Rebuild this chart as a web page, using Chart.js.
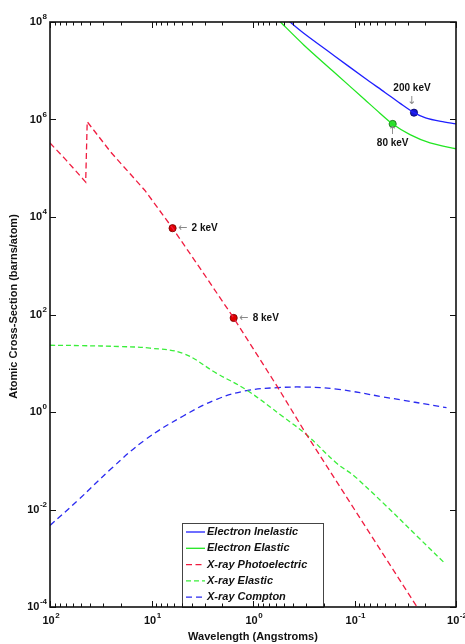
<!DOCTYPE html>
<html>
<head>
<meta charset="utf-8">
<script src="https://cdn.jsdelivr.net/npm/chart.js@4.4.1/dist/chart.umd.min.js"></script>
<style>
  html, body { margin: 0; padding: 0; background: #fff; }
</style>
</head>
<body>
<canvas id="chart" width="465" height="644"></canvas>
<script>
// wavelength in angstroms, cross-section in barns/atom
const photoLambda = [100, 70, 44.5, 43, 25, 11.6, 6.2, 3, 1.55, 0.57, 0.296, 0.1, 0.0242];
const photoValue = [3.3e5, 1.5e5, 5.2e4, 9.0e5, 2.1e5, 3.5e4, 5.9e3, 650, 85, 3.2, 0.34, 0.01, 1e-4];

const xElasticLambda = [100, 50, 20, 10.35, 4.86, 2.28, 1.15, 0.502, 0.296, 0.15, 0.095, 0.0129];
const xElasticValue = [23.4, 23, 22, 20.4, 15.8, 6.2, 2.8, 0.79, 0.34, 0.089, 0.044, 7.9e-4];

const comptonLambda = [100, 52.6, 24.7, 11.6, 4.86, 2.28, 1.15, 0.571, 0.296, 0.15, 0.052, 0.0124];
const comptonValue = [4.7e-3, 0.0157, 0.07, 0.267, 0.83, 1.82, 2.75, 3.16, 3.24, 2.95, 2.04, 1.23];

const eInelLambda = [0.6, 0.4315, 0.3162, 0.1585, 0.0794, 0.0501, 0.03548, 0.02594, 0.01995, 0.01413, 0.01];
const eInelValue = [1.78e8, 1.0e8, 5.89e7, 2.04e7, 7.08e6, 3.59e6, 2.14e6, 1.38e6, 1.08e6, 9.12e5, 8.13e5];

const eElasticLambda = [0.708, 0.537, 0.3162, 0.1585, 0.0794, 0.0562, 0.04207, 0.02838, 0.01803, 0.01];
const eElasticValue = [1.76e8, 1.0e8, 3.39e7, 9.33e6, 2.57e6, 1.35e6, 8.1e5, 4.88e5, 3.3e5, 2.51e5];

// marked energies
const redMarkLambda = [6.2, 1.55];
const redMarkValue = [5.9e3, 85];
const redMarkText = ['2 keV', '8 keV'];
const blueMarkLambda = [0.02594];
const blueMarkValue = [1.38e6];
const blueMarkText = ['200 keV'];
const greenMarkLambda = [0.04207];
const greenMarkValue = [8.1e5];
const greenMarkText = ['80 keV'];

const xTickValues = [100, 10, 1, 0.1, 0.01];
const xTickExp = [2, 1, 0, -1, -2];
const yTickValues = [1e8, 1e6, 1e4, 1e2, 1, 1e-2, 1e-4];
const yTickExp = [8, 6, 4, 2, 0, -2, -4];

const legendLabels = ['Electron Inelastic', 'Electron Elastic', 'X-ray Photoelectric', 'X-ray Elastic', 'X-ray Compton'];

const FONT = '"Liberation Sans", Arial, Helvetica, sans-serif';

const pts = (xs, ys) => xs.map((x, i) => ({ x, y: ys[i] }));

const lineSet = (label, xs, ys, color, dash, tension) => ({
    label,
    data: pts(xs, ys),
    showLine: true,
    borderColor: color,
    backgroundColor: color,
    borderWidth: 1.3,
    borderDash: dash,
    pointRadius: 0,
    tension,
    isLegend: true,
});

const markSet = (xs, ys, fill, edge, texts) => ({
    label: 'mark',
    data: pts(xs, ys),
    showLine: false,
    pointRadius: 3.6,
    pointBackgroundColor: fill,
    pointBorderColor: edge,
    pointBorderWidth: 0.8,
    texts,
});

const datasets = [
    lineSet(legendLabels[0], eInelLambda, eInelValue, '#1f1fff', [], 0.3),
    lineSet(legendLabels[1], eElasticLambda, eElasticValue, '#22e622', [], 0.3),
    lineSet(legendLabels[2], photoLambda, photoValue, '#f01c40', [6, 3.5], 0),
    lineSet(legendLabels[3], xElasticLambda, xElasticValue, '#3aee3a', [5, 3], 0.4),
    lineSet(legendLabels[4], comptonLambda, comptonValue, '#2a2af0', [6, 4], 0.4),
    markSet(redMarkLambda, redMarkValue, '#e00000', '#700000', redMarkText),
    markSet(blueMarkLambda, blueMarkValue, '#1818d0', '#000060', blueMarkText),
    markSet(greenMarkLambda, greenMarkValue, '#33dd33', '#116611', greenMarkText),
];

function drawPow(ctx, exp, x, y, align) {
    ctx.font = 'bold 11px ' + FONT;
    const wb = ctx.measureText('10').width;
    ctx.font = 'bold 8px ' + FONT;
    const we = ctx.measureText(String(exp)).width;
    const total = wb + we + 0.5;
    const start = align === 'right' ? x - total : x - total / 2;
    ctx.textAlign = 'left';
    ctx.textBaseline = 'middle';
    ctx.font = 'bold 11px ' + FONT;
    ctx.fillText('10', start, y);
    ctx.font = 'bold 8px ' + FONT;
    ctx.fillText(String(exp), start + wb + 0.5, y - 5);
}

const legendBox = {
    id: 'legendBox',
    afterDatasetsDraw(chart) {
        const { ctx, chartArea: a } = chart;
        const left = a.left + 132, top = a.bottom - 84, w = 141, h = 84;
        ctx.save();
        ctx.fillStyle = '#fff';
        ctx.fillRect(left, top, w, h);
        ctx.strokeStyle = '#444';
        ctx.lineWidth = 1;
        ctx.strokeRect(left + 0.5, top + 0.5, w, h);
        const items = chart.data.datasets.filter(d => d.isLegend);
        items.forEach((d, i) => {
            const yy = top + 9 + i * 16.3;
            ctx.strokeStyle = d.borderColor;
            ctx.lineWidth = 1.3;
            ctx.setLineDash(d.borderDash);
            ctx.beginPath();
            ctx.moveTo(left + 4, yy);
            ctx.lineTo(left + 23, yy);
            ctx.stroke();
            ctx.setLineDash([]);
            ctx.fillStyle = '#111';
            ctx.font = 'italic bold 11px ' + FONT;
            ctx.textAlign = 'left';
            ctx.textBaseline = 'middle';
            ctx.fillText(d.label, left + 25, yy);
        });
        ctx.restore();
    }
};

const frame = {
    id: 'frame',
    afterDraw(chart) {
        const { ctx, chartArea: a, scales: { x, y } } = chart;
        ctx.save();
        ctx.strokeStyle = '#111';
        ctx.lineWidth = 1;

        // x ticks, inward, top and bottom
        for (let e = -2; e <= 2; e++) {
            for (let m = 1; m <= 9; m++) {
                const v = m * Math.pow(10, e);
                if (v > 100.001) continue;
                const px = Math.round(x.getPixelForValue(v)) + 0.5;
                const len = m === 1 ? 6 : 3.5;
                ctx.beginPath();
                ctx.moveTo(px, a.bottom);
                ctx.lineTo(px, a.bottom - len);
                ctx.moveTo(px, a.top);
                ctx.lineTo(px, a.top + len);
                ctx.stroke();
            }
        }
        // y ticks, inward, left and right
        yTickValues.forEach(v => {
            const py = Math.round(y.getPixelForValue(v)) + 0.5;
            ctx.beginPath();
            ctx.moveTo(a.left, py);
            ctx.lineTo(a.left + 6, py);
            ctx.moveTo(a.right, py);
            ctx.lineTo(a.right - 6, py);
            ctx.stroke();
        });

        ctx.lineWidth = 1.6;
        ctx.strokeRect(a.left, a.top, a.right - a.left, a.bottom - a.top);

        ctx.fillStyle = '#111';
        xTickValues.forEach((v, i) => drawPow(ctx, xTickExp[i], x.getPixelForValue(v) + 1, a.bottom + 14, 'center'));
        yTickValues.forEach((v, i) => drawPow(ctx, yTickExp[i], a.left - 3, y.getPixelForValue(v), 'right'));

        // axis titles
        ctx.font = 'bold 11px ' + FONT;
        ctx.textAlign = 'center';
        ctx.textBaseline = 'middle';
        ctx.fillText('Wavelength (Angstroms)', (a.left + a.right) / 2, a.bottom + 30);
        ctx.save();
        ctx.translate(14, (a.top + a.bottom) / 2 - 8);
        ctx.rotate(-Math.PI / 2);
        ctx.fillText('Atomic Cross-Section (barns/atom)', 0, 0);
        ctx.restore();

        // energy annotations
        const meta = i => chart.getDatasetMeta(i).data;
        const arrow = (ch, px, py) => {
            ctx.fillStyle = '#888';
            ctx.font = '11px "DejaVu Sans", ' + FONT;
            ctx.textAlign = 'center';
            ctx.fillText(ch, px, py);
        };
        const label = (txt, px, py, align) => {
            ctx.fillStyle = '#111';
            ctx.font = 'bold 10px ' + FONT;
            ctx.textAlign = align;
            ctx.fillText(txt, px, py);
        };
        meta(5).forEach((p, i) => {
            arrow('\u2190', p.x + 10, p.y);
            label(chart.data.datasets[5].texts[i], p.x + 19, p.y, 'left');
        });
        meta(6).forEach((p, i) => {
            arrow('\u2193', p.x - 2, p.y - 12);
            label(chart.data.datasets[6].texts[i], p.x - 2, p.y - 24, 'center');
        });
        meta(7).forEach((p, i) => {
            arrow('\u2191', p.x, p.y + 7);
            label(chart.data.datasets[7].texts[i], p.x, p.y + 19, 'center');
        });
        ctx.restore();
    }
};

new Chart(document.getElementById('chart').getContext('2d'), {
    type: 'scatter',
    data: { datasets },
    options: {
        responsive: false,
        animation: false,
        layout: { padding: { left: 50, right: 9, top: 22, bottom: 37 } },
        scales: {
            x: { type: 'logarithmic', reverse: true, min: 0.01, max: 100, display: false },
            y: { type: 'logarithmic', min: 1e-4, max: 1e8, display: false },
        },
        plugins: {
            legend: { display: false },
            tooltip: { enabled: false },
        },
    },
    plugins: [legendBox, frame],
});
</script>
</body>
</html>
